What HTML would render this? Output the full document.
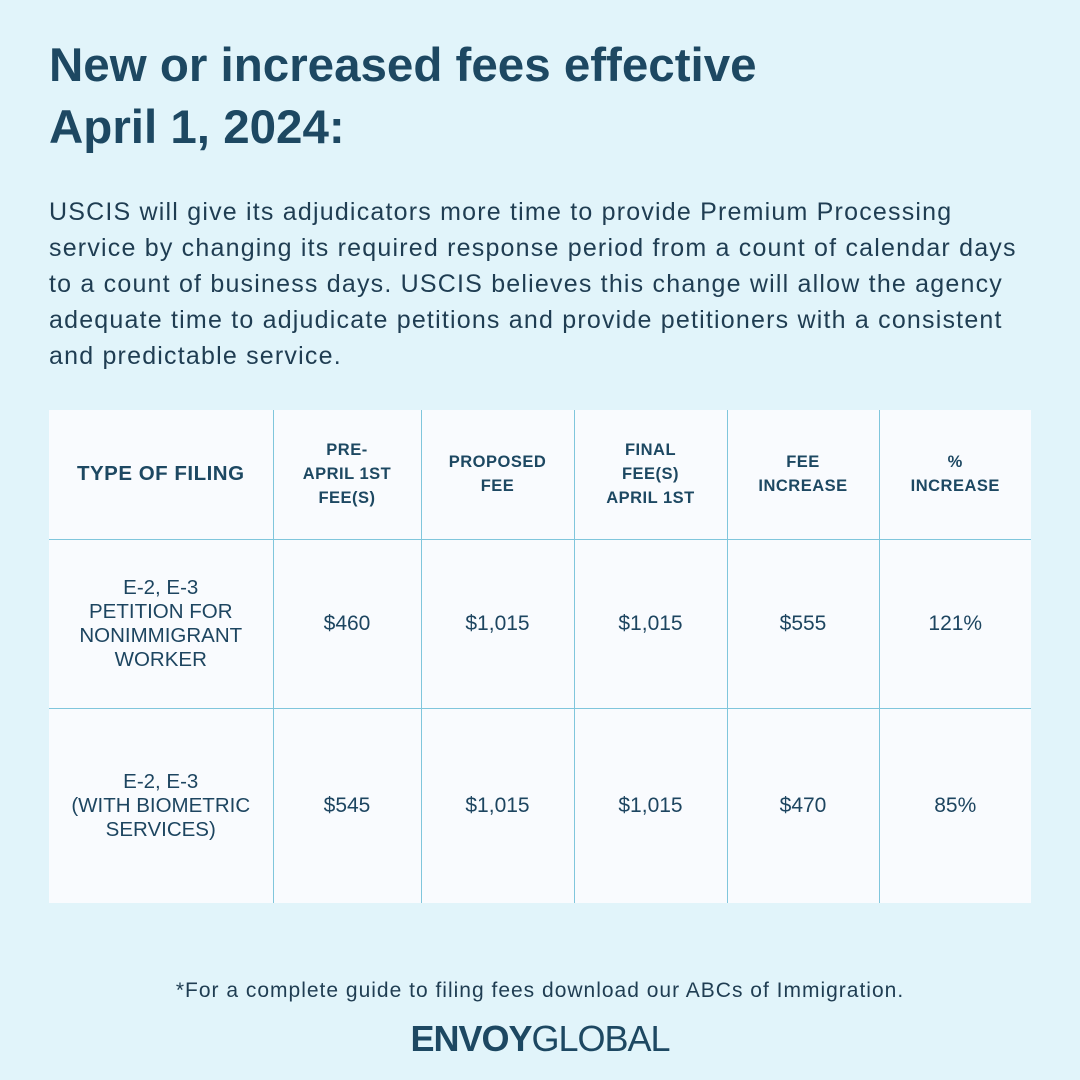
<!DOCTYPE html>
<html><head><style>
body{margin:0;width:1080px;height:1080px;background:#e1f4fa;font-family:"Liberation Sans",sans-serif;color:#1d4560;position:relative;overflow:hidden}
.a{position:absolute}
h1{position:absolute;left:49px;top:35px;margin:0;font-size:47.5px;line-height:62px;font-weight:bold;color:#1d4862;letter-spacing:0px}
p.t{position:absolute;left:49px;top:194px;margin:0;width:1030px;font-size:25px;line-height:36px;color:#1f3d52;white-space:nowrap;letter-spacing:1.2px}
table{position:absolute;left:49px;top:410px;width:982px;height:493px;border-collapse:collapse;background:#f9fbfe;table-layout:fixed}
td,th{border:1.5px solid #80c6dc;text-align:center;vertical-align:middle;padding:0 4px}
tr>*:first-child{border-left:none}tr>*:last-child{border-right:none}
tr:first-child>*{border-top:none}tr:last-child>*{border-bottom:none}
th{font-size:16.5px;line-height:24px;font-weight:bold;color:#1d4862;letter-spacing:0.5px}
th.f{font-size:20.5px}
td{font-size:21px;color:#1d4560}
td.f{font-size:20.5px;line-height:24px}
</style></head><body>
<h1>New or increased fees effective<br>April 1, 2024:</h1>
<p class="t">USCIS will give its adjudicators more time to provide Premium Processing<br>service by changing its required response period from a count of calendar days<br>to a count of business days. USCIS believes this change will allow the agency<br>adequate time to adjudicate petitions and provide petitioners with a consistent<br>and predictable service.</p>
<table>
<colgroup><col style="width:224px"><col style="width:148px"><col style="width:153px"><col style="width:153px"><col style="width:152px"><col></colgroup>
<tr style="height:129px"><th class="f">TYPE OF FILING</th><th>PRE-<br>APRIL 1ST<br>FEE(S)</th><th>PROPOSED<br>FEE</th><th>FINAL<br>FEE(S)<br>APRIL 1ST</th><th>FEE<br>INCREASE</th><th>%<br>INCREASE</th></tr>
<tr style="height:169px"><td class="f">E-2, E-3<br>PETITION FOR<br>NONIMMIGRANT<br>WORKER</td><td>$460</td><td>$1,015</td><td>$1,015</td><td>$555</td><td>121%</td></tr>
<tr><td class="f">E-2, E-3<br>(WITH BIOMETRIC<br>SERVICES)</td><td>$545</td><td>$1,015</td><td>$1,015</td><td>$470</td><td>85%</td></tr>
</table>
<div class="a" style="left:0;width:1080px;top:979px;text-align:center;font-size:21px;letter-spacing:1px;color:#1f3d52">*For a complete guide to filing fees download our ABCs of Immigration.</div>
<div class="a" style="left:0;width:1080px;top:1018px;text-align:center;font-size:36px;color:#1d4862;letter-spacing:-1px"><b>ENVOY</b>GLOBAL</div>
</body></html>
